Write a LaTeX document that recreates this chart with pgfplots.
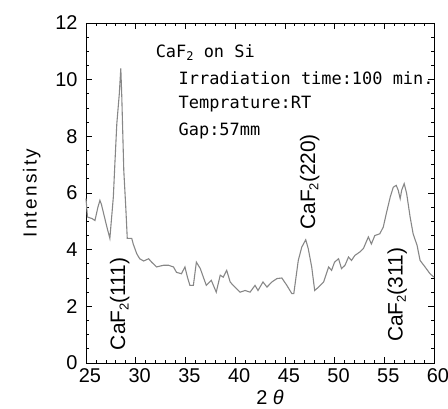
\documentclass[border=0pt]{standalone}
\usepackage{fontspec}
\setmainfont{Liberation Sans}
\newfontfamily\gothic{DejaVu Sans Mono}
\usepackage{pgfplots}
\pgfplotsset{compat=1.18}
\definecolor{curve}{RGB}{135,135,135}
\newcommand{\gsub}[1]{\raisebox{-0.35ex}{\fontsize{12}{12}\selectfont #1}}
\newcommand{\asub}[1]{\raisebox{-0.3ex}{\fontsize{13}{13}\selectfont #1}}
\begin{document}
\begin{tikzpicture}
\useasboundingbox (-86bp,-46bp) rectangle (362bp,363bp);
\begin{axis}[
  at={(0,0)}, anchor=south west,
  scale only axis, width=348bp, height=340bp,
  xmin=25, xmax=60, ymin=0, ymax=12,
  xtick={25,30,...,60}, ytick={0,2,...,12},
  minor x tick num=4, minor y tick num=3,
  tick align=inside,
  major tick length=6bp, minor tick length=3bp,
  xtick pos=both, ytick pos=both,
  axis line style={line width=0.9pt},
  tick style={line width=0.7pt, black},
  /pgf/number format/assume math mode=true,
  ticklabel style={font=\fontsize{20}{22}\selectfont},
  xticklabel style={yshift=-2bp, xshift=4bp},
  yticklabel style={xshift=-5bp},
  xlabel={2 \textit{θ}},
  ylabel={\addfontfeature{LetterSpace=12}Intensity},
  xlabel style={font=\fontsize{20}{22}\selectfont, xshift=10bp, yshift=-1bp},
  ylabel style={font=\fontsize{19}{22}\selectfont, yshift=8bp},
  clip=false,
]
\addplot[color=curve, line width=1.1pt] coordinates {
(25.0,5.8)(25.15,5.15)(25.6,5.1)(25.9,5.03)(26.2,5.5)(26.4,5.74)(26.55,5.6)
(27.1,4.8)(27.4,4.4)(27.75,5.86)(27.9,7.0)(28.1,8.45)(28.35,9.5)(28.5,10.4)
(28.6,9.4)(28.8,6.8)(29.0,5.5)(29.15,4.4)(29.6,4.4)(29.75,4.2)(30.1,3.86)
(30.4,3.68)(30.8,3.6)(31.3,3.68)(31.6,3.56)(32.1,3.39)(32.8,3.45)(33.3,3.45)
(33.8,3.39)(34.1,3.2)(34.6,3.15)(34.95,3.39)(35.2,3.03)(35.45,2.74)(35.8,2.74)
(36.1,3.56)(36.5,3.33)(36.8,3.03)(37.1,2.74)(37.6,2.92)(38.1,2.5)(38.5,3.1)
(38.8,3.03)(39.15,3.27)(39.5,2.86)(39.8,2.74)(40.15,2.62)(40.5,2.5)(41.0,2.56)
(41.5,2.5)(42.0,2.74)(42.3,2.56)(42.8,2.86)(43.2,2.68)(43.7,2.86)(44.2,2.98)
(44.7,3.0)(45.2,2.74)(45.7,2.45)(45.9,2.45)(46.35,3.62)(46.7,4.09)(47.1,4.35)
(47.35,4.04)(47.7,3.39)(48.0,2.56)(48.4,2.68)(48.9,2.86)(49.4,3.39)(49.7,3.27)
(50.0,3.56)(50.4,3.68)(50.7,3.33)(51.05,3.45)(51.4,3.74)(51.7,3.62)(52.05,3.8)
(52.55,3.92)(52.9,4.04)(53.4,4.45)(53.7,4.2)(54.05,4.5)(54.55,4.56)(54.9,4.8)
(55.2,5.27)(55.6,5.86)(55.9,6.2)(56.2,6.27)(56.4,6.1)(56.6,5.8)(56.75,6.1)
(57.0,6.33)(57.25,5.98)(57.6,5.15)(57.9,4.56)(58.3,4.15)(58.6,3.62)(59.1,3.39)
(59.6,3.15)(60.0,3.03)
};
\node[rotate=90, anchor=west, font=\fontsize{21}{22}\selectfont, inner sep=0pt] at (axis cs:28.4,0.45) {CaF\asub{2}(111)};
\node[rotate=90, anchor=west, font=\fontsize{21}{22}\selectfont, inner sep=0pt] at (axis cs:47.5,4.7) {CaF\asub{2}(220)};
\node[rotate=90, anchor=west, font=\fontsize{21}{22}\selectfont, inner sep=0pt] at (axis cs:56.3,0.74) {CaF\asub{2}(311)};
\node[anchor=west, font=\gothic\fontsize{17}{20}\selectfont, inner sep=0pt] at (axis cs:32.0,10.95) {CaF\gsub{2} on Si};
\node[anchor=west, font=\gothic\fontsize{17}{20}\selectfont, inner sep=0pt] at (axis cs:34.3,10.05) {Irradiation time:100 min.};
\node[anchor=west, font=\gothic\fontsize{17}{20}\selectfont, inner sep=0pt] at (axis cs:34.3,9.15) {Temprature:RT};
\node[anchor=west, font=\gothic\fontsize{17}{20}\selectfont, inner sep=0pt] at (axis cs:34.3,8.2) {Gap:57mm};
\end{axis}
\end{tikzpicture}
\end{document}
